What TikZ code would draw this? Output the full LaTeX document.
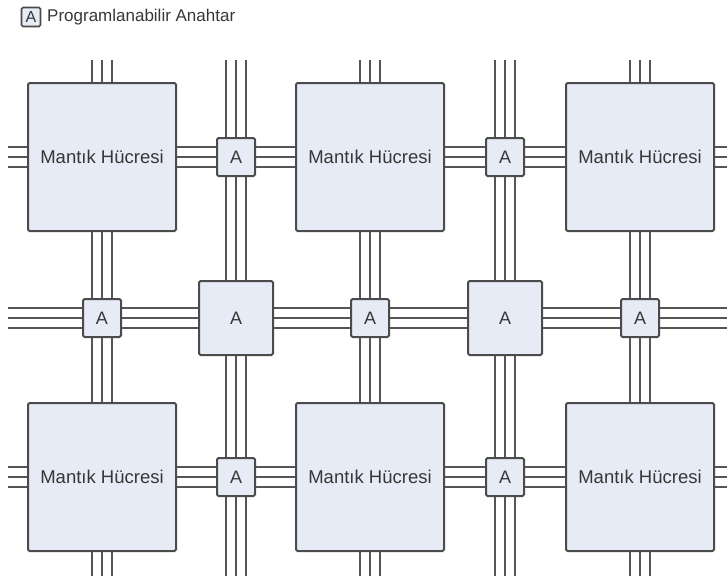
\documentclass[tikz,border=0pt]{standalone}
\usepackage{fontspec}
\setmainfont{Liberation Sans}
\definecolor{cellfill}{RGB}{231,235,246}
\definecolor{edgec}{RGB}{75,75,75}
\definecolor{wirec}{RGB}{85,85,85}
\definecolor{txt}{RGB}{55,55,55}
\newcommand\hwire[2]{\foreach \d in {-10,0,10}{\draw[wire] ([yshift=\d pt]#1) -- ([yshift=\d pt]#2);}}
\newcommand\vwire[2]{\foreach \d in {-10,0,10}{\draw[wire] ([xshift=\d pt]#1) -- ([xshift=\d pt]#2);}}
\begin{document}
\begin{tikzpicture}[x=1pt,y=-1pt,
  wire/.style={draw=wirec,line width=2.1pt},
  cell/.style={draw=edgec,fill=cellfill,line width=2pt,rounded corners=1.5pt,minimum width=148pt,minimum height=148pt,inner sep=0pt,text=txt,font=\fontsize{18.5}{22}\selectfont},
  sws/.style={draw=edgec,fill=cellfill,line width=2pt,rounded corners=1.5pt,minimum width=38pt,minimum height=38pt,inner sep=0pt,text=txt,font=\fontsize{18}{21}\selectfont},
  swl/.style={sws,minimum width=74pt,minimum height=74pt},
  legbox/.style={sws,line width=1.6pt,minimum width=19pt,minimum height=19pt,font=\fontsize{16}{19}\selectfont}]
\useasboundingbox (0,0) rectangle (727,582);
% legend
\node[legbox] (leg) at (31,17) {A};
\node[anchor=west,text=txt,font=\fontsize{17}{20}\selectfont,inner sep=0pt] (legt) at (47,17.5) {Programlanabilir Anahtar};
% row 1
\node[cell] (L1) at (102,157) {Mantık Hücresi};
\node[sws]  (S1) at (236,157) {A};
\node[cell] (L2) at (370,157) {Mantık Hücresi};
\node[sws]  (S2) at (505,157) {A};
\node[cell] (L3) at (640,157) {Mantık Hücresi};
% middle row
\node[sws] (M1) at (102,318) {A};
\node[swl] (M2) at (236,318) {A};
\node[sws] (M3) at (370,318) {A};
\node[swl] (M4) at (505,318) {A};
\node[sws] (M5) at (640,318) {A};
% row 3
\node[cell] (L4) at (102,477) {Mantık Hücresi};
\node[sws]  (S3) at (236,477) {A};
\node[cell] (L5) at (370,477) {Mantık Hücresi};
\node[sws]  (S4) at (505,477) {A};
\node[cell] (L6) at (640,477) {Mantık Hücresi};
% free ends
\foreach \n/\x in {a/102,b/236,c/370,d/505,e/640}{
  \coordinate (T\n) at (\x,60);
  \coordinate (B\n) at (\x,576);
}
\foreach \n/\y in {1/157,2/318,3/477}{
  \coordinate (W\n) at (8,\y);
  \coordinate (E\n) at (727,\y);
}
% horizontal wires
\hwire{W1}{L1.west} \hwire{L1.east}{S1.west} \hwire{S1.east}{L2.west} \hwire{L2.east}{S2.west} \hwire{S2.east}{L3.west} \hwire{L3.east}{E1}
\hwire{W2}{M1.west} \hwire{M1.east}{M2.west} \hwire{M2.east}{M3.west} \hwire{M3.east}{M4.west} \hwire{M4.east}{M5.west} \hwire{M5.east}{E2}
\hwire{W3}{L4.west} \hwire{L4.east}{S3.west} \hwire{S3.east}{L5.west} \hwire{L5.east}{S4.west} \hwire{S4.east}{L6.west} \hwire{L6.east}{E3}
% vertical wires
\vwire{Ta}{L1.north} \vwire{L1.south}{M1.north} \vwire{M1.south}{L4.north} \vwire{L4.south}{Ba}
\vwire{Tb}{S1.north} \vwire{S1.south}{M2.north} \vwire{M2.south}{S3.north} \vwire{S3.south}{Bb}
\vwire{Tc}{L2.north} \vwire{L2.south}{M3.north} \vwire{M3.south}{L5.north} \vwire{L5.south}{Bc}
\vwire{Td}{S2.north} \vwire{S2.south}{M4.north} \vwire{M4.south}{S4.north} \vwire{S4.south}{Bd}
\vwire{Te}{L3.north} \vwire{L3.south}{M5.north} \vwire{M5.south}{L6.north} \vwire{L6.south}{Be}
\end{tikzpicture}
\end{document}
